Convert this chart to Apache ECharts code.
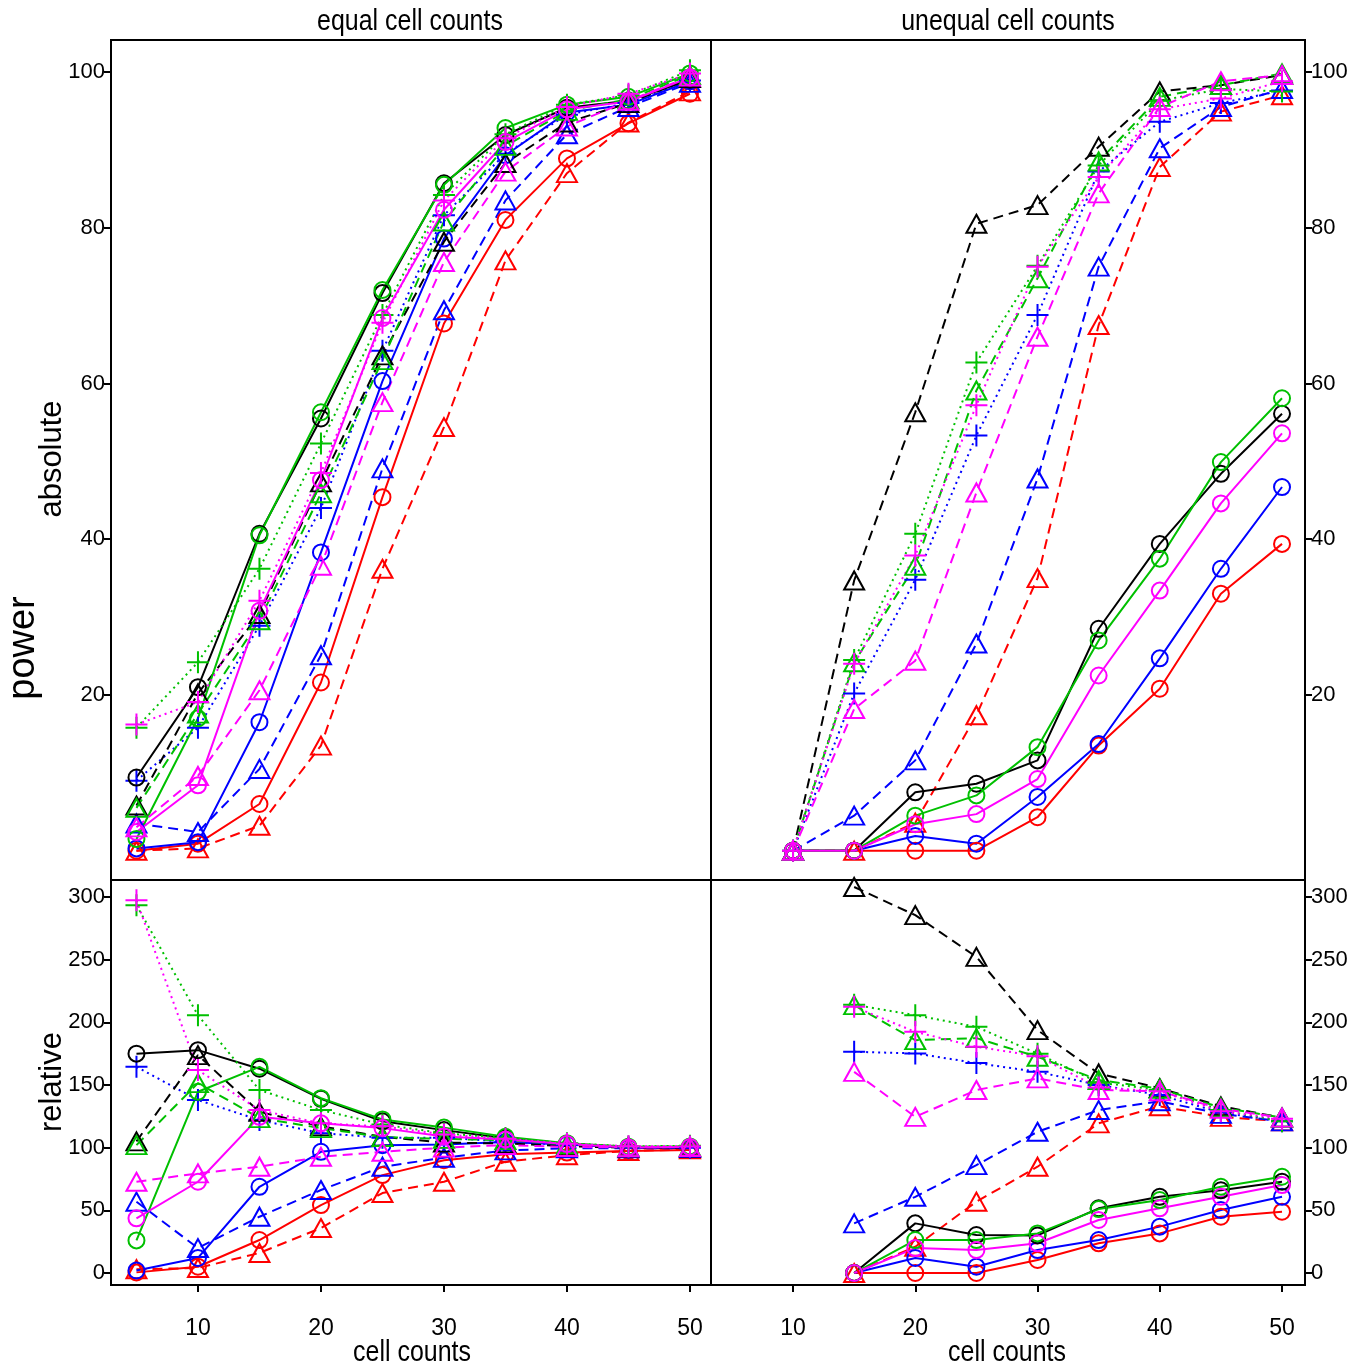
<!DOCTYPE html>
<html>
<head>
<meta charset="utf-8">
<script src="https://cdn.jsdelivr.net/npm/echarts@6/dist/echarts.min.js"></script>
<style>
  html, body { margin: 0; padding: 0; background: #ffffff; }
  #chart { width: 1364px; height: 1371px; }
</style>
</head>
<body>
<div id="chart"></div>
<script>
// ---- cell counts (x values) ----
const cellsEqual = [5, 10, 15, 20, 25, 30, 35, 40, 45, 50];
const cellsUnequalAbs = [10, 15, 20, 25, 30, 35, 40, 45, 50];
const cellsUnequalRel = [15, 20, 25, 30, 35, 40, 45, 50];

// ---- tick labels ----
const xTicks = [10, 20, 30, 40, 50];
const absTicks = [20, 40, 60, 80, 100];
const relTicks = [0, 50, 100, 150, 200, 250, 300];

// ---- equal cell counts, absolute power ----
const eqAbsBlackCircle    = [9.4, 21.0, 40.7, 55.5, 71.6, 85.7, 91.9, 95.4, 96.3, 99.0];
const eqAbsGreenCircle    = [1.5, 17.0, 40.5, 56.3, 72.0, 85.5, 92.8, 95.8, 96.8, 99.8];
const eqAbsBlueCircle     = [0.3, 1.1, 16.5, 38.3, 60.3, 78.6, 89.3, 94.8, 95.8, 98.8];
const eqAbsMagentaCircle  = [2.4, 8.4, 30.8, 47.6, 68.4, 82.3, 91.0, 95.2, 96.2, 99.3];
const eqAbsRedCircle      = [0.0, 0.9, 6.0, 21.6, 45.4, 67.7, 81.0, 88.9, 93.4, 97.2];
const eqAbsBlackTriangle  = [5.8, 20.2, 30.4, 47.3, 63.6, 78.2, 88.3, 93.5, 96.0, 99.2];
const eqAbsGreenTriangle  = [5.5, 17.6, 29.6, 45.9, 63.0, 80.8, 90.5, 95.0, 96.5, 99.6];
const eqAbsBlueTriangle   = [3.5, 2.4, 10.5, 25.1, 49.1, 69.4, 83.5, 92.0, 95.5, 98.6];
const eqAbsMagentaTriangle= [3.0, 9.6, 20.6, 36.6, 57.6, 75.6, 87.2, 93.0, 96.3, 99.4];
const eqAbsRedTriangle    = [0.0, 0.3, 3.2, 13.5, 36.2, 54.4, 75.8, 87.0, 93.5, 97.5];
const eqAbsGreenPlus      = [15.8, 24.2, 36.2, 52.3, 68.8, 84.2, 92.0, 95.8, 97.0, 100.2];
const eqAbsBluePlus       = [9.0, 15.8, 28.9, 44.0, 64.2, 81.6, 89.5, 94.5, 96.0, 98.9];
const eqAbsMagentaPlus    = [16.2, 19.1, 32.1, 48.5, 67.8, 83.5, 91.5, 95.5, 97.2, 99.8];

// ---- unequal cell counts, absolute power ----
const uneqAbsBlackCircle    = [0, 0, 7.5, 8.6, 11.6, 28.5, 39.4, 48.4, 56.1];
const uneqAbsGreenCircle    = [0, 0, 4.5, 7.1, 13.3, 27.0, 37.5, 49.9, 58.1];
const uneqAbsBlueCircle     = [0, 0, 1.9, 0.9, 6.9, 13.7, 24.7, 36.2, 46.7];
const uneqAbsMagentaCircle  = [0, 0, 3.4, 4.7, 9.2, 22.5, 33.4, 44.6, 53.6];
const uneqAbsRedCircle      = [0, 0, 0, 0, 4.3, 13.5, 20.8, 33.0, 39.4];
const uneqAbsBlackTriangle  = [0, 34.7, 56.3, 80.5, 82.9, 90.4, 97.5, 98.3, 99.6];
const uneqAbsGreenTriangle  = [0, 24.2, 36.6, 59.1, 73.5, 88.5, 96.8, 98.3, 99.8];
const uneqAbsBlueTriangle   = [0, 4.5, 11.6, 26.6, 47.8, 75.0, 90.2, 95.5, 97.8];
const uneqAbsMagentaTriangle= [0, 18.2, 24.4, 46.0, 66.0, 84.4, 95.5, 98.8, 99.6];
const uneqAbsRedTriangle    = [0, 0, 3.6, 17.4, 35.0, 67.5, 87.8, 94.9, 97.0];
const uneqAbsGreenPlus      = [0, 24.5, 40.7, 62.7, 75.1, 88.0, 96.3, 97.8, 97.5];
const uneqAbsBluePlus       = [0, 20.2, 34.8, 53.3, 68.8, 87.2, 93.6, 96.0, 97.6];
const uneqAbsMagentaPlus    = [0, 24.0, 37.9, 57.2, 75.0, 86.5, 95.2, 96.6, 98.8];

// ---- equal cell counts, relative power ----
const eqRelBlackCircle    = [175, 177.8, 163, 139, 121, 114, 107.6, 103.1, 100.3, 100.3];
const eqRelGreenCircle    = [26, 144.6, 164.5, 139.5, 122.5, 116, 108.7, 103.6, 100.8, 101];
const eqRelBlueCircle     = [2, 12, 68.8, 96.7, 102, 102.5, 104.6, 102.5, 99.8, 99.8];
const eqRelMagentaCircle  = [43.6, 72.8, 124.6, 119.4, 115.6, 109, 106.6, 102.9, 100.2, 100.5];
const eqRelRedCircle      = [0.5, 5, 26.3, 54.2, 78.1, 90, 94.8, 96.1, 97.3, 98.2];
const eqRelBlackTriangle  = [105, 173.8, 128.6, 117, 108.7, 104, 103.4, 101.1, 100, 100.3];
const eqRelGreenTriangle  = [102, 151.5, 123.6, 115.6, 108.5, 107, 106, 102.7, 100.5, 100.8];
const eqRelBlueTriangle   = [56.9, 19.9, 44.9, 66.2, 84.8, 92, 97.8, 99.5, 99.5, 99.6];
const eqRelMagentaTriangle= [72.8, 79.5, 84.8, 92.7, 96.7, 100, 102.1, 100.5, 100.3, 100.5];
const eqRelRedTriangle    = [3, 4, 16, 35.9, 63.8, 72.8, 88.8, 94, 97.4, 98.6];
const eqRelGreenPlus      = [293.5, 205.7, 146, 130, 118.5, 111.5, 107.7, 103.6, 101, 101.5];
const eqRelBluePlus       = [164.5, 138, 122, 111.6, 108, 108, 104.8, 102.2, 100, 100];
const eqRelMagentaPlus    = [297.4, 161.9, 130, 119.4, 117, 110.6, 107.1, 103.2, 101.2, 101];

// ---- unequal cell counts, relative power ----
const uneqRelBlackCircle    = [0, 39.6, 30.3, 30.0, 51.6, 60.8, 66.0, 72.8];
const uneqRelGreenCircle    = [0, 26.3, 26.3, 31.6, 51.0, 58.2, 68.8, 76.8];
const uneqRelBlueCircle     = [0, 12.0, 5.0, 18.3, 26.3, 37.0, 50.2, 60.8];
const uneqRelMagentaCircle  = [0, 19.9, 18.3, 23.7, 42.3, 51.6, 60.8, 70.2];
const uneqRelRedCircle      = [0, 0, 0, 10.4, 23.7, 31.6, 44.9, 48.9];
const uneqRelBlackTriangle  = [308, 285.5, 252.2, 193.8, 159.2, 147.5, 133, 124];
const uneqRelGreenTriangle  = [213.7, 185.8, 187.4, 172.5, 154, 147, 132, 124];
const uneqRelBlueTriangle   = [39.6, 60.8, 86.1, 112.7, 130, 137, 127, 121];
const uneqRelMagentaTriangle= [160.5, 124.6, 146, 155.3, 146, 145, 131, 124];
const uneqRelRedTriangle    = [0, 21, 56.9, 84.8, 119.4, 133, 124.6, 121];
const uneqRelGreenPlus      = [214, 205.7, 196.4, 175, 152, 146, 130, 121];
const uneqRelBluePlus       = [176.5, 175.2, 167.5, 160.5, 150, 142, 128, 121];
const uneqRelMagentaPlus    = [212.4, 192.4, 180.5, 173, 148, 145, 129, 123];

// ---- drawing styles ----
const BLACK = '#000000', GREEN = '#00c000', BLUE = '#0000ff', MAGENTA = '#ff00ff', RED = '#ff0000';
const PLUS = 'path://M10,0L10,20M0,10L20,10';
const CIRCLE = { symbol: 'circle', size: 16, dash: 'solid' };
const TRIANGLE = { symbol: 'triangle', size: [20, 18], dash: [10, 6] };
const CROSS = { symbol: PLUS, size: 22, dash: [2, 4] };

// series per panel, in drawing order (later ones on top)
function panelSeries(d) {
  return [
    [RED, CIRCLE, d.redCircle], [RED, TRIANGLE, d.redTriangle],
    [BLUE, CIRCLE, d.blueCircle], [BLUE, TRIANGLE, d.blueTriangle], [BLUE, CROSS, d.bluePlus],
    [BLACK, CIRCLE, d.blackCircle], [BLACK, TRIANGLE, d.blackTriangle],
    [GREEN, CIRCLE, d.greenCircle], [GREEN, TRIANGLE, d.greenTriangle], [GREEN, CROSS, d.greenPlus],
    [MAGENTA, CIRCLE, d.magentaCircle], [MAGENTA, TRIANGLE, d.magentaTriangle], [MAGENTA, CROSS, d.magentaPlus]
  ];
}

const panels = [
  { grid: 0, xs: cellsEqual, d: {
      blackCircle: eqAbsBlackCircle, greenCircle: eqAbsGreenCircle, blueCircle: eqAbsBlueCircle,
      magentaCircle: eqAbsMagentaCircle, redCircle: eqAbsRedCircle,
      blackTriangle: eqAbsBlackTriangle, greenTriangle: eqAbsGreenTriangle, blueTriangle: eqAbsBlueTriangle,
      magentaTriangle: eqAbsMagentaTriangle, redTriangle: eqAbsRedTriangle,
      greenPlus: eqAbsGreenPlus, bluePlus: eqAbsBluePlus, magentaPlus: eqAbsMagentaPlus } },
  { grid: 1, xs: cellsUnequalAbs, d: {
      blackCircle: uneqAbsBlackCircle, greenCircle: uneqAbsGreenCircle, blueCircle: uneqAbsBlueCircle,
      magentaCircle: uneqAbsMagentaCircle, redCircle: uneqAbsRedCircle,
      blackTriangle: uneqAbsBlackTriangle, greenTriangle: uneqAbsGreenTriangle, blueTriangle: uneqAbsBlueTriangle,
      magentaTriangle: uneqAbsMagentaTriangle, redTriangle: uneqAbsRedTriangle,
      greenPlus: uneqAbsGreenPlus, bluePlus: uneqAbsBluePlus, magentaPlus: uneqAbsMagentaPlus } },
  { grid: 2, xs: cellsEqual, d: {
      blackCircle: eqRelBlackCircle, greenCircle: eqRelGreenCircle, blueCircle: eqRelBlueCircle,
      magentaCircle: eqRelMagentaCircle, redCircle: eqRelRedCircle,
      blackTriangle: eqRelBlackTriangle, greenTriangle: eqRelGreenTriangle, blueTriangle: eqRelBlueTriangle,
      magentaTriangle: eqRelMagentaTriangle, redTriangle: eqRelRedTriangle,
      greenPlus: eqRelGreenPlus, bluePlus: eqRelBluePlus, magentaPlus: eqRelMagentaPlus } },
  { grid: 3, xs: cellsUnequalRel, d: {
      blackCircle: uneqRelBlackCircle, greenCircle: uneqRelGreenCircle, blueCircle: uneqRelBlueCircle,
      magentaCircle: uneqRelMagentaCircle, redCircle: uneqRelRedCircle,
      blackTriangle: uneqRelBlackTriangle, greenTriangle: uneqRelGreenTriangle, blueTriangle: uneqRelBlueTriangle,
      magentaTriangle: uneqRelMagentaTriangle, redTriangle: uneqRelRedTriangle,
      greenPlus: uneqRelGreenPlus, bluePlus: uneqRelBluePlus, magentaPlus: uneqRelMagentaPlus } }
];

const series = [];
panels.forEach(p => {
  panelSeries(p.d).forEach(([color, st, ys]) => {
    series.push({
      type: 'line',
      xAxisIndex: p.grid,
      yAxisIndex: p.grid,
      data: p.xs.map((x, i) => [x, ys[i]]),
      symbol: st.symbol,
      symbolSize: st.size,
      showAllSymbol: true,
      clip: false,
      lineStyle: { color: color, width: 2, type: st.dash },
      itemStyle: { color: 'rgba(0,0,0,0)', borderColor: color, borderWidth: 2 },
      emphasis: { disabled: true },
      silent: true
    });
  });
});

const FONT = 'Liberation Sans, Arial, sans-serif';
const gridBox = { show: true, borderColor: '#000', borderWidth: 2, backgroundColor: 'rgba(0,0,0,0)' };

// x axes sit on the bottom edge of each panel (not at y = 0)
function xAxisFor(gi, min, max, labelled) {
  return {
    type: 'value', gridIndex: gi, min: min, max: max, position: 'bottom',
    axisLine: { show: false, onZero: false }, splitLine: { show: false },
    axisTick: labelled ? { show: true, customValues: xTicks, length: 7, lineStyle: { color: '#000', width: 2 } } : { show: false },
    axisLabel: labelled ? { show: true, customValues: xTicks, margin: 32, fontSize: 23, color: '#000', fontFamily: FONT } : { show: false }
  };
}
function yAxisFor(gi, min, max, ticks, pos) {
  return {
    type: 'value', gridIndex: gi, min: min, max: max, position: pos,
    axisLine: { show: false, onZero: false }, splitLine: { show: false },
    axisTick: { show: true, customValues: ticks, length: 7, lineStyle: { color: '#000', width: 2 } },
    axisLabel: { show: true, customValues: ticks, margin: 6, fontSize: 22, color: '#000', fontFamily: FONT }
  };
}

function label(text, x, y, size, rot, sx) {
  return {
    type: 'text', x: x, y: y, rotation: rot, scaleX: sx, silent: true,
    style: { text: text, fill: '#000', fontSize: size, fontFamily: FONT,
             textAlign: 'center', textVerticalAlign: 'middle', align: 'center', verticalAlign: 'middle' }
  };
}

const chart = echarts.init(document.getElementById('chart'));
chart.setOption({
  animation: false,
  backgroundColor: '#ffffff',
  grid: [
    Object.assign({ left: 111, top: 40, width: 600, height: 840 }, gridBox),
    Object.assign({ left: 711, top: 40, width: 594, height: 840 }, gridBox),
    Object.assign({ left: 111, top: 880, width: 600, height: 405 }, gridBox),
    Object.assign({ left: 711, top: 880, width: 594, height: 405 }, gridBox)
  ],
  xAxis: [
    xAxisFor(0, 2.93, 51.71, false),
    xAxisFor(1, 3.29, 51.88, false),
    xAxisFor(2, 2.93, 51.71, true),
    xAxisFor(3, 3.29, 51.88, true)
  ],
  yAxis: [
    yAxisFor(0, -3.76, 104.1, absTicks, 'left'),
    yAxisFor(1, -3.76, 104.1, absTicks, 'right'),
    yAxisFor(2, -9.57, 313.56, relTicks, 'left'),
    yAxisFor(3, -9.57, 313.56, relTicks, 'right')
  ],
  graphic: [
    label('equal cell counts', 410, 22, 29, 0, 0.86),
    label('unequal cell counts', 1008, 22, 29, 0, 0.86),
    label('cell counts', 412, 1353, 29, 0, 0.86),
    label('cell counts', 1007, 1353, 29, 0, 0.86),
    label('power', 24, 648, 38, Math.PI / 2, 1),
    label('absolute', 52, 459, 31, Math.PI / 2, 1),
    label('relative', 52, 1082, 31, Math.PI / 2, 1)
  ],
  series: series
});
</script>
</body>
</html>
